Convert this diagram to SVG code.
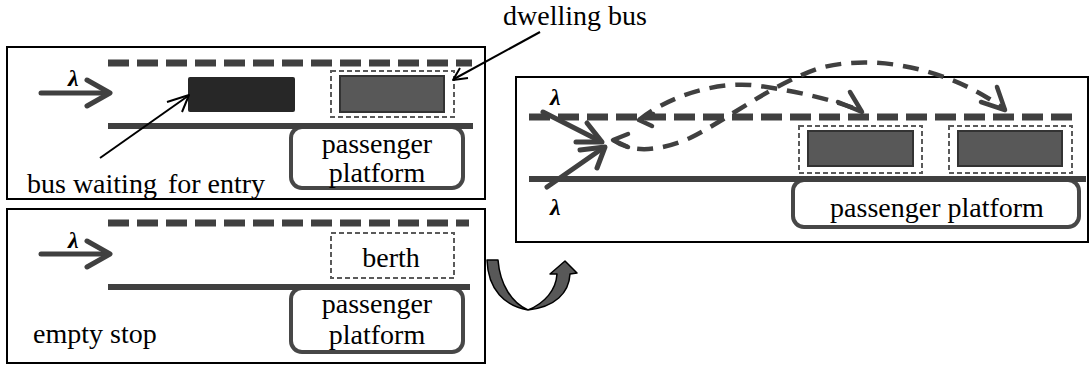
<svg xmlns="http://www.w3.org/2000/svg" width="1090" height="366" viewBox="0 0 1090 366">
  <style>
    .frame { fill: #ffffff; stroke: #000000; stroke-width: 2; }
    .lane-dash { fill: none; stroke: #404040; stroke-width: 7; stroke-dasharray: 21 8; }
    .curb { fill: none; stroke: #404040; stroke-width: 6; }
    .platform { fill: #ffffff; stroke: #474747; stroke-width: 4; }
    .berth { fill: none; stroke: #5a5a5a; stroke-width: 2; stroke-dasharray: 5 3; }
    .bus-wait { fill: #272727; }
    .bus-dwell { fill: #585858; stroke: #333333; stroke-width: 2; }
    .flow { fill: none; stroke: #404040; stroke-width: 5; stroke-linejoin: round; stroke-linecap: round; }
    .path-dash { fill: none; stroke: #404040; stroke-width: 4.5; stroke-dasharray: 16 10; }
    .head-thin { fill: none; stroke: #404040; stroke-width: 4.5; stroke-linejoin: round; stroke-linecap: round; }
    .pointer { fill: none; stroke: #000000; stroke-width: 2; stroke-linejoin: round; }
    .txt { font-family: "Liberation Serif", "Times New Roman", serif; font-size: 28px; fill: #000000; }
    .mid { text-anchor: middle; }
    .lam { font-family: "Liberation Serif", "Times New Roman", serif; font-size: 24px; font-weight: bold; font-style: italic; fill: #000000; }
    .uturn { fill: #585858; stroke: #000000; stroke-width: 1.5; stroke-linejoin: round; }
  </style>

  <!-- Stop with one bus at the berth and one queued behind it -->
  <g id="stop-queued">
    <rect class="frame" x="7" y="47" width="478" height="152"/>
    <line class="lane-dash" x1="108" y1="63" x2="472" y2="63"/>
    <rect class="platform" x="291" y="127" width="172" height="61" rx="11"/>
    <line class="curb" x1="108" y1="126" x2="473" y2="126"/>
    <rect class="bus-wait" x="188" y="77" width="107" height="35" rx="2"/>
    <rect class="berth" x="331" y="71" width="123" height="46"/>
    <rect class="bus-dwell" x="340" y="76" width="104" height="36"/>
    <text class="lam" x="68" y="86">λ</text>
    <text class="txt mid" x="377" y="153">passenger</text>
    <text class="txt mid" x="377" y="182">platform</text>
    <text class="txt" x="27" y="193">bus waiting <tspan dx="4">for entry</tspan></text>
  </g>

  <!-- Empty single-berth stop -->
  <g id="stop-empty">
    <rect class="frame" x="7" y="209" width="478" height="154"/>
    <line class="lane-dash" x1="108" y1="223" x2="469" y2="223"/>
    <rect class="platform" x="291" y="288" width="172" height="64" rx="11"/>
    <line class="curb" x1="108" y1="287" x2="470" y2="287"/>
    <rect class="berth" x="331" y="233" width="123" height="45"/>
    <text class="txt mid" x="391" y="267">berth</text>
    <text class="lam" x="68" y="248">λ</text>
    <text class="txt mid" x="377" y="313">passenger</text>
    <text class="txt mid" x="377" y="344">platform</text>
    <text class="txt" x="33" y="343">empty stop</text>
  </g>

  <!-- Two-berth stop fed from both lanes -->
  <g id="stop-two-berth">
    <rect class="frame" x="516" y="77" width="572" height="165"/>
    <line class="lane-dash" x1="529" y1="117" x2="1079" y2="117"/>
    <rect class="platform" x="793" y="180" width="286" height="47" rx="11"/>
    <line class="curb" x1="529" y1="179" x2="1086" y2="179"/>
    <rect class="berth" x="799" y="126" width="123" height="47"/>
    <rect class="bus-dwell" x="808" y="131" width="105" height="35"/>
    <rect class="berth" x="949" y="126" width="123" height="47"/>
    <rect class="bus-dwell" x="958" y="131" width="104" height="35"/>
    <text class="lam" x="550" y="105">λ</text>
    <text class="lam" x="550" y="215">λ</text>
    <text class="txt mid" x="937" y="217">passenger platform</text>
  </g>

  <!-- Transition arrow between layouts -->
  <g id="transition">
    <path class="uturn" d="M487,260 L498,260 C500,285 512,303 528,310 C545,303 556,290 557,274 L550,274 L565,261 L577,273 L570,274 C569,293 555,307 528,310 C505,306 488,290 487,260 Z"/>
  </g>

  <!-- Callout label -->
  <g id="label-dwelling">
    <text class="txt" x="503" y="25">dwelling bus</text>
  </g>

  <!-- Connectors: arrivals, berth choice paths, callout pointers -->
  <g id="connectors">
    <line class="flow" x1="41" y1="93" x2="108" y2="93"/>
    <polyline class="flow" points="87,80 110,93 87,106"/>
    <line class="flow" x1="41" y1="254" x2="108" y2="254"/>
    <polyline class="flow" points="87,241 110,254 87,267"/>

    <line class="flow" x1="543" y1="112" x2="600" y2="141"/>
    <polyline class="flow" points="576,142 602,142 587,123"/>
    <line class="flow" x1="547" y1="187" x2="603" y2="148"/>
    <polyline class="flow" points="580,150 605,147 597,168"/>

    <path class="path-dash" d="M613,140 C630,152 655,153 690,138 C730,118 770,85 820,68 C880,52 955,72 1004,109"/>
    <polyline class="head-thin" points="628,134 613,140 628,147"/>
    <polyline class="head-thin" points="997,87 1005,110 981,102"/>

    <path class="path-dash" d="M639,120 C670,95 720,80 760,86 C800,92 835,100 861,111"/>
    <polyline class="head-thin" points="653,114 639,120 652,126"/>
    <polyline class="head-thin" points="850,92 862,112 838,102"/>

    <line class="pointer" x1="100" y1="158" x2="188" y2="96"/>
    <polyline class="pointer" points="167,102 189,95 182,112"/>
    <line class="pointer" x1="540" y1="32" x2="454" y2="79"/>
    <polyline class="pointer" points="460,68 453,80 468,78"/>
  </g>
</svg>
